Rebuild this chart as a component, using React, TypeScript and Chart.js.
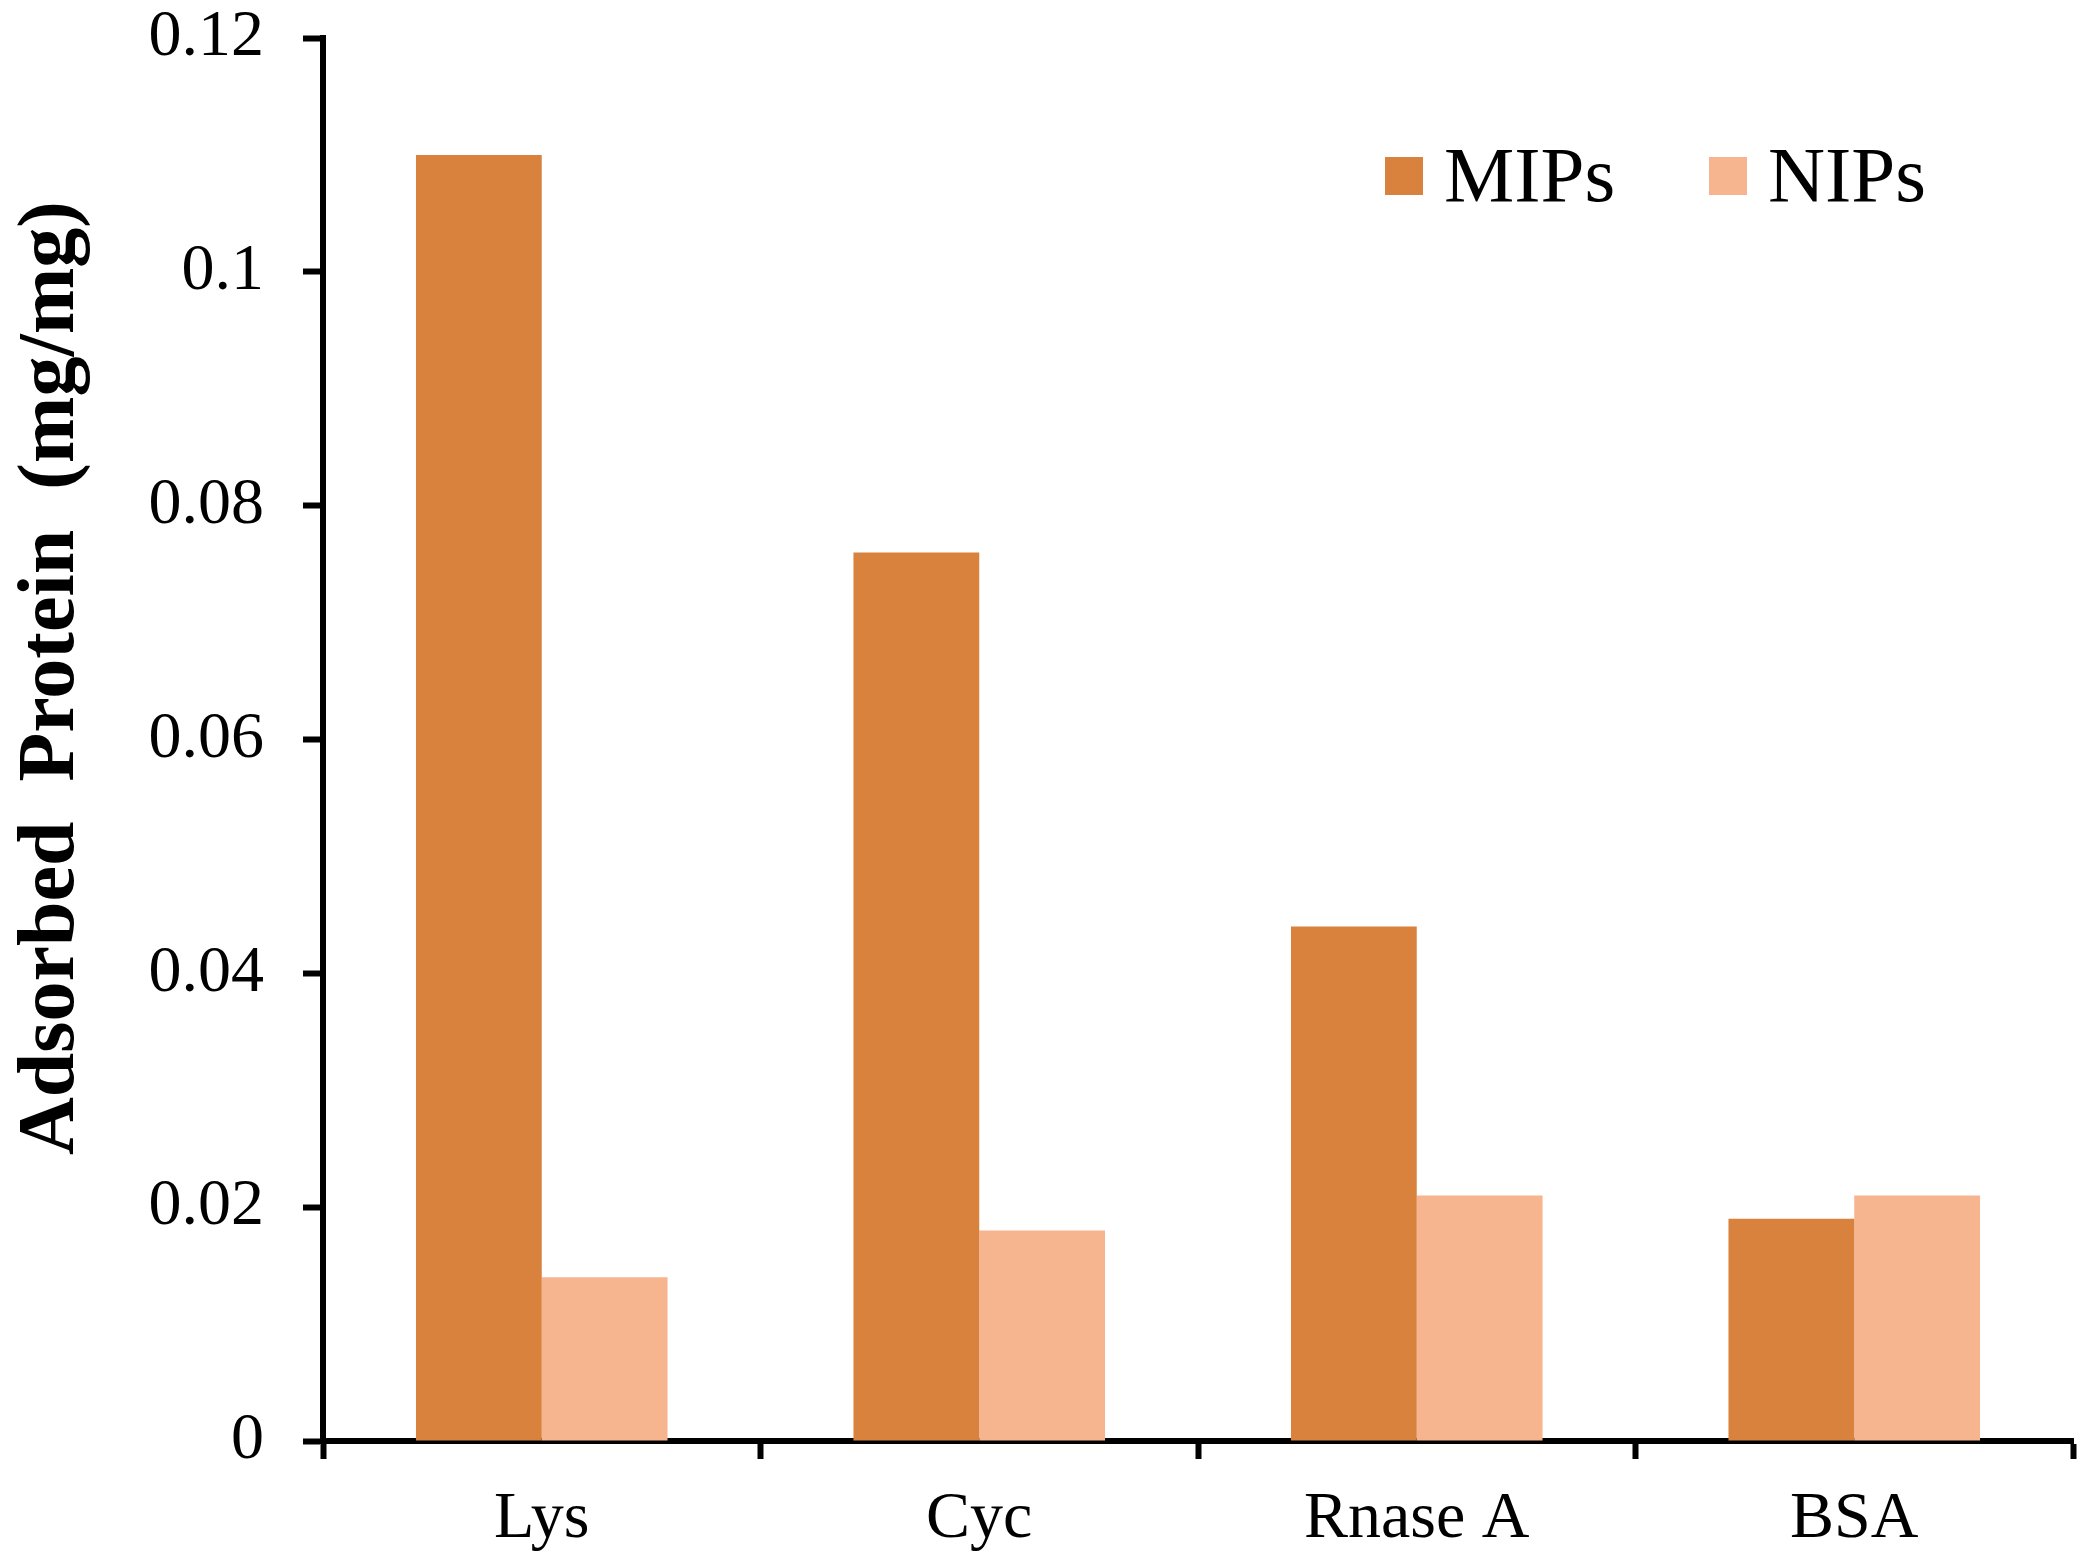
import React, { useEffect, useRef } from "react";
import { Chart, registerables } from "chart.js";

Chart.register(...registerables);

const categories = ["Lys", "Cyc", "Rnase A", "BSA"];
const seriesNames = ["MIPs", "NIPs"];
const mipsValues = [0.11, 0.076, 0.044, 0.019];
const nipsValues = [0.014, 0.018, 0.021, 0.021];
const yTickValues = [0, 0.02, 0.04, 0.06, 0.08, 0.1, 0.12];
const yTitle = "Adsorbed  Protein  (mg/mg)";
const colors = ["#D8823E", "#F6B48F"];

const FONT = "'Liberation Serif', 'Times New Roman', serif";

const legendPlugin = {
  id: "customLegend",
  afterDraw(chart: any) {
    const ctx = chart.ctx;
    const area = chart.chartArea;
    const box = 38;
    const starts = [area.right - 688, area.right - 364];
    const cy = area.top + 138;
    ctx.save();
    ctx.font = `79px ${FONT}`;
    ctx.textBaseline = "middle";
    ctx.textAlign = "left";
    chart.data.datasets.forEach((ds: any, i: number) => {
      const x = starts[i];
      ctx.fillStyle = ds.backgroundColor;
      ctx.fillRect(x, cy - box / 2, box, box);
      ctx.fillStyle = "#000";
      ctx.fillText(ds.label, x + 59, cy + 4);
    });
    ctx.restore();
  },
};

const titlePlugin = {
  id: "yTitle",
  afterDraw(chart: any) {
    const ctx = chart.ctx;
    ctx.save();
    ctx.translate(52, 678);
    ctx.rotate(-Math.PI / 2);
    ctx.font = `bold 80px ${FONT}`;
    ctx.fillStyle = "#000";
    ctx.textAlign = "center";
    ctx.textBaseline = "middle";
    ctx.fillText(yTitle, 0, 0);
    ctx.restore();
  },
};

export default function App() {
  const ref = useRef<HTMLCanvasElement>(null);

  useEffect(() => {
    if (!ref.current) return;
    const chart = new Chart(ref.current, {
      type: "bar",
      data: {
        labels: categories,
        datasets: [
          { label: seriesNames[0], data: mipsValues, backgroundColor: colors[0], borderWidth: 0 },
          { label: seriesNames[1], data: nipsValues, backgroundColor: colors[1], borderWidth: 0 },
        ],
      },
      options: {
        responsive: false,
        animation: false,
        devicePixelRatio: 1,
        layout: { padding: { left: 0, top: 38, right: 16, bottom: 0 } },
        plugins: {
          legend: { display: false },
          tooltip: { enabled: false },
          title: { display: false },
        },
        datasets: {
          bar: { categoryPercentage: 0.575, barPercentage: 1.0 },
        },
        scales: {
          x: {
            offset: true,
            grid: {
              display: true,
              offset: true,
              drawOnChartArea: false,
              drawTicks: true,
              tickLength: 18,
              tickWidth: 6,
              tickColor: "#000",
            },
            border: { display: true, color: "#000", width: 6 },
            ticks: {
              color: "#000",
              padding: 28,
              font: { family: FONT, size: 66, lineHeight: 1 },
              maxRotation: 0,
            },
            afterFit(scale: any) {
              scale.height = 1563 - 1441;
              scale.paddingLeft = 0;
              scale.paddingRight = 0;
            },
          },
          y: {
            min: 0,
            max: 0.12,
            afterBuildTicks(scale: any) {
              scale.ticks = yTickValues.map((v) => ({ value: v }));
            },
            grid: {
              display: true,
              drawOnChartArea: false,
              drawTicks: true,
              tickLength: 20,
              tickWidth: 6,
              tickColor: "#000",
            },
            border: { display: true, color: "#000", width: 6 },
            ticks: {
              color: "#000",
              padding: 39,
              font: { family: FONT, size: 66, lineHeight: 1 },
              callback: (v: any) => String(Number(Number(v).toFixed(2))),
            },
            afterFit(scale: any) {
              scale.width = 323;
              scale.paddingTop = 0;
              scale.paddingBottom = 0;
            },
          },
        },
      },
      plugins: [legendPlugin, titlePlugin],
    } as any);
    return () => chart.destroy();
  }, []);

  return (
    <div style={{ position: "fixed", left: 0, top: 0, width: 2089, height: 1563, background: "#fff" }}>
      <canvas ref={ref} width={2089} height={1563} style={{ width: 2089, height: 1563, display: "block" }} />
    </div>
  );
}
